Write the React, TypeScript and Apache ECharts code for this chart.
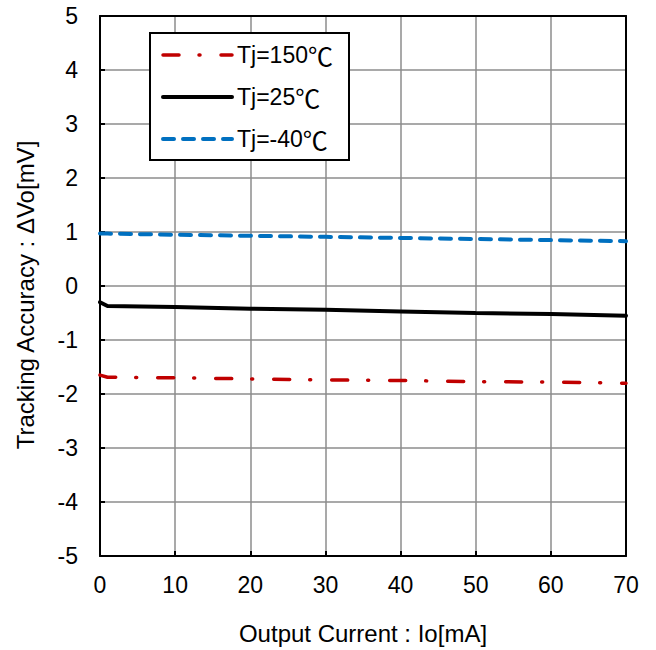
import React, { useEffect, useRef } from "react";
import * as echarts from "echarts";

const currents = [0, 1, 10, 20, 30, 40, 50, 60, 70];
const tj150 = [-1.65, -1.69, -1.7, -1.72, -1.74, -1.75, -1.77, -1.78, -1.8];
const tj25 = [-0.3, -0.37, -0.39, -0.42, -0.44, -0.47, -0.5, -0.52, -0.55];
const tjm40 = [0.97, 0.97, 0.95, 0.93, 0.91, 0.89, 0.87, 0.85, 0.83];
const seriesLabels = ["Tj=150", "Tj=25", "Tj=-40"];
const seriesNames = ["Tj=150℃", "Tj=25℃", "Tj=-40℃"];
const seriesColors = ["#C00000", "#000000", "#0070C0"];
const xTitle = "Output Current : Io[mA]";
const yTitle = "Tracking Accuracy : ΔVo[mV]";

const FONT = "'Liberation Sans', Arial, sans-serif";
const CJK = "'Noto Sans CJK JP', sans-serif";
const FS = 23;
const TFS = 24;

const dashes: any[] = [[16, 20, 1, 21], "solid", [11, 9]];
const widths = [3.5, 4, 4];

export default function App() {
  const ref = useRef<HTMLDivElement>(null);
  useEffect(() => {
    const chart = echarts.init(ref.current!, null, { renderer: "svg" });
    const allData = [tj150, tj25, tjm40];
    const series = allData.map((vals, i) => ({
      name: seriesNames[i],
      type: "line",
      data: currents.map((c, j) => [c, vals[j]]),
      showSymbol: false,
      symbol: "none",
      lineStyle: {
        color: seriesColors[i],
        width: widths[i],
        type: dashes[i],
        cap: "round",
      },
      z: 5,
    }));
    const legendX = 163;
    const legendRows = [55, 97, 139];
    const graphics: any[] = [
      {
        type: "text",
        x: 25,
        y: 295,
        rotation: Math.PI / 2,
        style: {
          text: yTitle,
          font: `${TFS}px ${FONT}`,
          fill: "#000",
          align: "center",
          verticalAlign: "middle",
        },
      },
      {
        type: "rect",
        shape: { x: 150, y: 33, width: 199, height: 127 },
        style: { fill: "#fff", stroke: "#000", lineWidth: 2 },
        z: 10,
      },
    ];
    legendRows.forEach((y, i) => {
      graphics.push({
        type: "line",
        shape: { x1: legendX, y1: y, x2: legendX + 69, y2: y },
        style: {
          stroke: seriesColors[i],
          lineWidth: widths[i],
          lineDash: typeof dashes[i] === "string" ? null : dashes[i],
          lineCap: "round",
        },
        z: 11,
      });
      graphics.push({
        type: "text",
        x: 237,
        y: y,
        style: {
          text: `{a|${seriesLabels[i]}}{b|℃}`,
          rich: {
            a: { fontFamily: FONT, fontSize: FS, color: "#000" },
            b: { fontFamily: CJK, fontSize: 25, color: "#000" },
          },
          verticalAlign: "middle",
          align: "left",
        },
        z: 11,
      });
    });
    chart.setOption({
      animation: false,
      backgroundColor: "#fff",
      grid: { left: 100, top: 16, right: 30, bottom: 94, containLabel: false },
      xAxis: [
        {
          type: "value",
          min: 0,
          max: 70,
          interval: 10,
          name: xTitle,
          nameLocation: "middle",
          nameGap: 65,
          nameTextStyle: { fontFamily: FONT, fontSize: TFS, color: "#000" },
          axisLine: { show: true, onZero: false, lineStyle: { color: "#000", width: 2 } },
          axisTick: { show: true, inside: true, length: 5, lineStyle: { color: "#000", width: 2 } },
          axisLabel: { fontFamily: FONT, fontSize: FS, color: "#000", margin: 17 },
          splitLine: { show: true, lineStyle: { color: "#8c8c8c", width: 1.5 } },
        },
        {
          type: "value",
          position: "top",
          min: 0,
          max: 70,
          interval: 10,
          axisLine: { show: true, onZero: false, lineStyle: { color: "#000", width: 2 } },
          axisTick: { show: false },
          axisLabel: { show: false },
          splitLine: { show: false },
        },
      ],
      yAxis: [
        {
          type: "value",
          min: -5,
          max: 5,
          interval: 1,
          axisLine: { show: true, onZero: false, lineStyle: { color: "#000", width: 2 } },
          axisTick: { show: true, inside: true, length: 5, lineStyle: { color: "#000", width: 2 } },
          axisLabel: { fontFamily: FONT, fontSize: FS, color: "#000", margin: 22 },
          splitLine: { show: true, lineStyle: { color: "#8c8c8c", width: 1.5 } },
        },
        {
          type: "value",
          position: "right",
          min: -5,
          max: 5,
          interval: 1,
          axisLine: { show: true, onZero: false, lineStyle: { color: "#000", width: 2 } },
          axisTick: { show: false },
          axisLabel: { show: false },
          splitLine: { show: false },
        },
      ],
      series,
      graphic: graphics,
    });
    return () => chart.dispose();
  }, []);
  return (
    <div
      ref={ref}
      style={{ position: "fixed", left: 0, top: 0, width: 656, height: 650 }}
    />
  );
}
